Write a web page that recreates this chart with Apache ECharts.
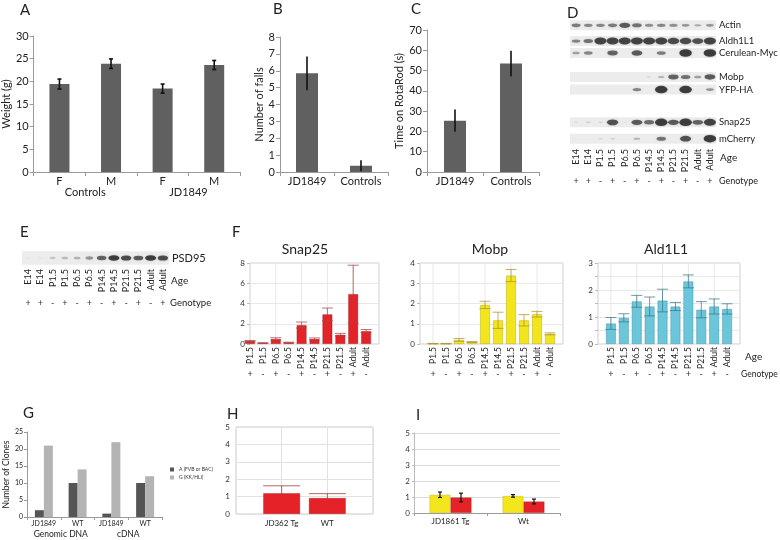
<!DOCTYPE html>
<html><head><meta charset="utf-8">
<script src="https://cdn.jsdelivr.net/npm/echarts@6/dist/echarts.min.js"></script>
<style>html,body{margin:0;padding:0;background:#fff}#c{width:780px;height:540px}</style>
</head><body><div id="c"></div><script>
// ---------------- data ----------------
const aCategories = ['F', 'M', 'F', 'M'];
const aGroups = ['Controls', 'JD1849'];
const aWeight = [19.4, 23.9, 18.4, 23.6];
const aWeightErr = [1.1, 1.05, 1.0, 1.0];

const bCategories = ['JD1849', 'Controls'];
const bFalls = [5.85, 0.37];
const bFallsErr = [1.0, 0.32];

const cCategories = ['JD1849', 'Controls'];
const cTime = [25.3, 53.5];
const cTimeErr = [5.5, 6.3];

const blotAges = ['E14', 'E14', 'P1.5', 'P1.5', 'P6.5', 'P6.5', 'P14.5', 'P14.5', 'P21.5', 'P21.5', 'Adult', 'Adult'];
const blotGenotype = ['+', '+', '-', '+', '-', '+', '-', '+', '-', '+', '-', '+'];

const dRowNames = ['Actin', 'Aldh1L1', 'Cerulean-Myc', 'Mobp', 'YFP-HA', 'Snap25', 'mCherry'];
const dActin = [0.6, 0.55, 0.55, 0.6, 0.8, 0.65, 0.5, 0.55, 0.5, 0.45, 0.35, 0.45];
const dAldh1L1 = [0.55, 0.65, 0.95, 0.95, 0.95, 0.95, 0.95, 0.95, 0.9, 0.9, 0.85, 0.95];
const dCerulean = [0.4, 0.55, 0, 0.75, 0, 0.8, 0, 0.6, 0, 1, 0, 1];
const dMobp = [0, 0, 0, 0, 0, 0, 0.1, 0.3, 0.75, 0.65, 0.4, 0.8];
const dYfp = [0, 0, 0, 0, 0, 0.55, 0, 1, 0, 1, 0, 0.45];
const dSnap25 = [0.08, 0.15, 0.12, 0.85, 0.04, 0.8, 0.7, 1, 0.8, 1, 0.75, 0.95];
const dMcherry = [0, 0, 0.1, 0.15, 0, 0.3, 0, 0.65, 0, 0.85, 0, 1];

const eRowNames = ['PSD95'];
const ePsd95 = [0.04, 0.04, 0.2, 0.25, 0.3, 0.45, 0.75, 1, 0.9, 0.8, 1, 0.9];

const fAges = ['P1.5', 'P1.5', 'P6.5', 'P6.5', 'P14.5', 'P14.5', 'P21.5', 'P21.5', 'Adult', 'Adult'];
const fGenotype = ['+', '-', '+', '-', '+', '-', '+', '-', '+', '-'];
const fTitles = ['Snap25', 'Mobp', 'Ald1L1'];
const fSnap25 = [0.3, 0.1, 0.5, 0.15, 1.87, 0.5, 2.93, 0.92, 4.93, 1.28];
const fSnap25Err = [0.05, 0.03, 0.12, 0.03, 0.3, 0.1, 0.62, 0.13, 2.85, 0.15];
const fMobp = [0.02, 0.02, 0.2, 0.1, 1.93, 1.17, 3.38, 1.17, 1.47, 0.5];
const fMobpErr = [0.01, 0.01, 0.07, 0.02, 0.18, 0.4, 0.3, 0.28, 0.14, 0.05];
const fAld1L1 = [0.76, 0.97, 1.58, 1.39, 1.61, 1.39, 2.32, 1.27, 1.39, 1.30];
const fAld1L1Err = [0.22, 0.15, 0.22, 0.35, 0.42, 0.15, 0.24, 0.3, 0.28, 0.19];

const gCategories = ['JD1849', 'WT', 'JD1849', 'WT'];
const gGroups = ['Genomic DNA', 'cDNA'];
const gSeriesNames = ['A (FVB or BAC)', 'G (KK/HLI)'];
const gAlleleA = [2, 10, 1, 10];
const gAlleleG = [21, 14, 22, 12];

const hCategories = ['JD362 Tg', 'WT'];
const hValues = [1.2, 0.92];
const hErr = [0.42, 0.25];

const iCategories = ['JD1861 Tg', 'Wt'];
const iYellow = [1.14, 1.07];
const iYellowErr = [0.17, 0.08];
const iRed = [0.97, 0.72];
const iRedErr = [0.27, 0.15];

// ---------------- builders ----------------
const FONT = 'Lato, "Open Sans", sans-serif';
const TXT = '#222';
const grids = [], xAxes = [], yAxes = [], series = [], graphics = [];
const addGrid = g => (grids.push(g), grids.length - 1);
const addX = a => (xAxes.push(a), xAxes.length - 1);
const addY = a => (yAxes.push(a), yAxes.length - 1);
const text = (x, y, s, size, align) => graphics.push({
  type: 'text', x, y,
  style: { text: s, fontSize: size, fill: TXT, fontFamily: FONT, align: align || 'left', verticalAlign: 'middle' }
});

function errSeries(xi, yi, data, o) {
  return {
    type: 'custom', xAxisIndex: xi, yAxisIndex: yi, data, z: 6, silent: true, clip: false,
    encode: { x: 0, y: 1 },
    renderItem(params, api) {
      const x = api.value(0), v = api.value(1), e = api.value(2);
      const t = api.coord([x, v + e]), b = api.coord([x, v - e]);
      const dx = o.dx || 0, hw = (o.cap || 0) / 2;
      const st = { stroke: o.color, lineWidth: o.width };
      const ch = [{ type: 'line', shape: { x1: t[0] + dx, y1: t[1], x2: b[0] + dx, y2: b[1] }, style: st }];
      if (hw > 0) {
        ch.push({ type: 'line', shape: { x1: t[0] + dx - hw, y1: t[1], x2: t[0] + dx + hw, y2: t[1] }, style: st });
        if (!o.noBottomCap) ch.push({ type: 'line', shape: { x1: b[0] + dx - hw, y1: b[1], x2: b[0] + dx + hw, y2: b[1] }, style: st });
      }
      return { type: 'group', children: ch };
    }
  };
}

const axisGray = { lineStyle: { color: '#9a9a9a', width: 1 } };

function simpleBar(rect, cats, vals, errs, yMax, yInt, yName, nameGap, barW, cap) {
  const gi = addGrid(rect);
  const xi = addX({
    type: 'category', gridIndex: gi, data: cats, axisLine: axisGray,
    axisTick: { show: true, length: 4, lineStyle: { color: '#9a9a9a' } },
    axisLabel: { fontSize: 11, color: TXT, margin: 4, fontFamily: FONT, interval: 0 }
  });
  const yi = addY({
    type: 'value', gridIndex: gi, min: 0, max: yMax, interval: yInt,
    axisLine: { show: true, lineStyle: { color: '#9a9a9a' } },
    axisTick: { show: true, length: 4, lineStyle: { color: '#9a9a9a' } },
    splitLine: { show: false },
    axisLabel: { fontSize: 11, color: TXT, margin: 5, fontFamily: FONT },
    name: yName, nameLocation: 'middle', nameRotate: 90, nameGap,
    nameTextStyle: { fontSize: 11, color: TXT, fontFamily: FONT }
  });
  series.push({ type: 'bar', xAxisIndex: xi, yAxisIndex: yi, data: vals, barWidth: barW, itemStyle: { color: '#606060' }, z: 3 });
  series.push(errSeries(xi, yi, vals.map((v, i) => [i, v, errs[i]]), { color: '#111', width: 1.6, cap }));
  return gi;
}

function blot(rect, rowNames, rowSlots, slotMax, rows, sizeFn, genoOffset, stripHalf, labelSize) {
  const gi = addGrid(rect);
  const xi = addX({
    type: 'category', gridIndex: gi, data: blotAges, axisLine: { show: false }, axisTick: { show: false },
    axisLabel: { rotate: 90, fontSize: 9, color: TXT, margin: 4, fontFamily: FONT, interval: 0 }
  });
  addX({
    type: 'category', gridIndex: gi, data: blotGenotype, position: 'bottom', offset: genoOffset,
    axisLine: { show: false }, axisTick: { show: false },
    axisLabel: { fontSize: 9, color: '#333', margin: 4, fontFamily: FONT, interval: 0 }
  });
  const yi = addY({ type: 'value', gridIndex: gi, min: -0.5, max: slotMax + 0.5, inverse: true, show: false });
  series.push({
    type: 'scatter', xAxisIndex: xi, yAxisIndex: yi, data: [], z: 1, silent: true,
    markArea: {
      silent: true,
      itemStyle: { color: '#ececec' },
      label: { show: true, position: 'right', distance: 3, fontSize: labelSize, color: TXT, fontFamily: FONT },
      data: rowNames.map((n, r) => [{ name: n, yAxis: rowSlots[r] - stripHalf }, { yAxis: rowSlots[r] + stripHalf }])
    }
  });
  const pts = [];
  rows.forEach((arr, r) => arr.forEach((v, l) => { if (v > 0.02) pts.push([l, rowSlots[r], v]); }));
  series.push({
    type: 'scatter', xAxisIndex: xi, yAxisIndex: yi, data: pts, z: 3, silent: true,
    symbol: 'circle', symbolSize: val => sizeFn(val[2]),
    itemStyle: {
      color: p => 'rgba(20,20,20,' + Math.min(1, p.value[2] * 0.95).toFixed(2) + ')',
      shadowBlur: 2, shadowColor: 'rgba(0,0,0,0.3)'
    }
  });
  return gi;
}

function fChart(rect, vals, errs, xMin, yMax, yInt, labelEvery, color, border, errColor) {
  const gi = addGrid(Object.assign({ show: true, borderColor: '#cfcfcf', borderWidth: 1 }, rect));
  const xi = addX({
    type: 'value', gridIndex: gi, min: xMin, max: 11, interval: 1,
    axisLine: { show: false }, axisTick: { show: false }, splitLine: { show: false },
    axisLabel: { rotate: 90, fontSize: 8.5, color: TXT, margin: 3, fontFamily: FONT, formatter: v => fAges[v - 1] || '' }
  });
  addX({
    type: 'value', gridIndex: gi, min: xMin, max: 11, interval: 1, position: 'bottom', offset: 22,
    axisLine: { show: false }, axisTick: { show: false }, splitLine: { show: false },
    axisLabel: { fontSize: 9, color: '#333', margin: 4, fontFamily: FONT, formatter: v => fGenotype[v - 1] || '' }
  });
  const yi = addY({
    type: 'value', gridIndex: gi, min: 0, max: yMax, interval: yInt,
    axisLine: { show: false }, axisTick: { show: true, length: 3, lineStyle: { color: '#bbb' } },
    splitLine: { lineStyle: { color: '#e8e8e8' } },
    axisLabel: { fontSize: 8, color: '#333', margin: 5, fontFamily: FONT, formatter: v => (Math.abs(v % labelEvery) < 1e-9 ? String(v) : '') }
  });
  const odd = [];
  for (let k = 1; k <= 9; k += 2) if (k > xMin) odd.push([k]);
  series.push({
    type: 'custom', xAxisIndex: xi, yAxisIndex: yi, data: odd, z: 1, silent: true, encode: { x: 0 },
    renderItem(p, api) {
      const a = api.coord([api.value(0), 0]), b = api.coord([api.value(0), yMax]);
      return { type: 'line', shape: { x1: a[0], y1: a[1], x2: b[0], y2: b[1] }, style: { stroke: '#e8e8e8', lineWidth: 1 } };
    }
  });
  series.push({
    type: 'bar', xAxisIndex: xi, yAxisIndex: yi, data: vals.map((v, i) => [i + 1, v]), barWidth: 10, z: 3,
    itemStyle: { color, borderColor: border, borderWidth: 0.7 }
  });
  series.push(errSeries(xi, yi, vals.map((v, i) => [i + 1, v, errs[i]]), { color: errColor, width: 1, cap: 11 }));
  return gi;
}

// ---------------- panels ----------------
const gA = simpleBar({ left: 32, top: 36, width: 208, height: 136 }, aCategories, aWeight, aWeightErr, 30, 5, 'Weight (g)', 20, 20, 4);
addX({
  type: 'category', gridIndex: gA, data: aGroups, position: 'bottom', offset: 11,
  axisLine: { show: false }, axisTick: { show: false },
  axisLabel: { fontSize: 11, color: TXT, margin: 4, fontFamily: FONT, interval: 0 }
});
simpleBar({ left: 280, top: 37, width: 108, height: 135 }, bCategories, bFalls, bFallsErr, 8, 1, 'Number of falls', 13, 22, 0);
simpleBar({ left: 427, top: 30, width: 112, height: 142 }, cCategories, cTime, cTimeErr, 70, 10, 'Time on RotaRod (s)', 18, 22, 0);

blot({ left: 570, top: 19, width: 146, height: 126 }, dRowNames, [0, 1.25, 2.2, 4.1, 5.1, 7.7, 9], 9,
  [dActin, dAldh1L1, dCerulean, dMobp, dYfp, dSnap25, dMcherry],
  v => [4 + 8.5 * v, 1.5 + 6 * v * v], 28, 0.4, 9.5);
blot({ left: 22, top: 251, width: 147, height: 14 }, eRowNames, [0], 0, [ePsd95],
  v => [5 + 6 * v, 1.5 + 4 * v], 30, 0.48, 11);

fChart({ left: 250, top: 263, width: 129, height: 81 }, fSnap25, fSnap25Err, 1, 8, 2, 2,
  '#e52228', 'rgba(150,20,20,0.55)', 'rgba(170,70,70,0.75)');
fChart({ left: 420, top: 263, width: 143, height: 81 }, fMobp, fMobpErr, 0, 4, 1, 1,
  '#f3e51c', 'rgba(170,160,0,0.6)', 'rgba(175,150,40,0.75)');
fChart({ left: 598, top: 263, width: 142, height: 81 }, fAld1L1, fAld1L1Err, 0, 3, 0.5, 1,
  '#6cc6da', 'rgba(50,140,160,0.6)', 'rgba(60,120,140,0.75)');

const gG = addGrid({ left: 27, top: 432, width: 135, height: 85 });
const gGx = addX({
  type: 'category', gridIndex: gG, data: gCategories, axisLine: axisGray,
  axisTick: { show: true, length: 3, lineStyle: { color: '#9a9a9a' } },
  axisLabel: { fontSize: 7, color: TXT, margin: 3, fontFamily: FONT, interval: 0 }
});
addX({
  type: 'category', gridIndex: gG, data: gGroups, position: 'bottom', offset: 9,
  axisLine: { show: false }, axisTick: { show: false },
  axisLabel: { fontSize: 8.5, color: TXT, margin: 4, fontFamily: FONT, interval: 0 }
});
const gGy = addY({
  type: 'value', gridIndex: gG, min: 0, max: 25, interval: 5,
  axisLine: { show: true, lineStyle: { color: '#9a9a9a' } },
  axisTick: { show: true, length: 3, lineStyle: { color: '#9a9a9a' } }, splitLine: { show: false },
  axisLabel: { fontSize: 7, color: TXT, margin: 4, fontFamily: FONT },
  name: 'Number of Clones', nameLocation: 'middle', nameRotate: 90, nameGap: 13,
  nameTextStyle: { fontSize: 8.5, color: TXT, fontFamily: FONT }
});
series.push({ type: 'bar', name: gSeriesNames[0], xAxisIndex: gGx, yAxisIndex: gGy, data: gAlleleA, barWidth: 9, barGap: '0%', itemStyle: { color: '#555555' } });
series.push({ type: 'bar', name: gSeriesNames[1], xAxisIndex: gGx, yAxisIndex: gGy, data: gAlleleG, barWidth: 9, barGap: '0%', itemStyle: { color: '#b4b4b4' } });

const gH = addGrid({ left: 236, top: 427, width: 137, height: 87, show: true, borderColor: '#cccccc', borderWidth: 1 });
const hX = addX({
  type: 'value', gridIndex: gH, min: 0, max: 3, interval: 1,
  axisLine: { show: false }, axisTick: { show: false },
  splitLine: { show: true, lineStyle: { color: '#e2e2e2' } },
  axisLabel: { fontSize: 8, color: TXT, margin: 5, fontFamily: FONT, formatter: v => hCategories[v - 1] || '' }
});
const hY = addY({
  type: 'value', gridIndex: gH, min: 0, max: 5, interval: 1,
  axisLine: { show: false }, axisTick: { show: false },
  splitLine: { lineStyle: { color: '#e2e2e2' } },
  axisLabel: { fontSize: 8, color: '#333', margin: 6, fontFamily: FONT }
});
series.push({ type: 'bar', xAxisIndex: hX, yAxisIndex: hY, data: hValues.map((v, i) => [i + 1, v]), barWidth: 37, z: 3, itemStyle: { color: '#e52228', borderColor: 'rgba(150,20,20,0.5)', borderWidth: 0.7 } });
series.push(errSeries(hX, hY, hValues.map((v, i) => [i + 1, v, hErr[i]]), { color: 'rgba(170,60,60,0.8)', width: 1, cap: 37, noBottomCap: true }));

const gI = addGrid({ left: 414, top: 433, width: 146, height: 80 });
const iX = addX({
  type: 'category', gridIndex: gI, data: iCategories,
  axisLine: { show: true, lineStyle: { color: '#9a9a9a' } },
  axisTick: { show: true, length: 3, lineStyle: { color: '#9a9a9a' } },
  axisLabel: { fontSize: 8, color: TXT, margin: 4, fontFamily: FONT, interval: 0 }
});
const iY = addY({
  type: 'value', gridIndex: gI, min: 0, max: 5, interval: 1,
  axisLine: { show: true, lineStyle: { color: '#bdbdbd' } }, axisTick: { show: true, length: 2, lineStyle: { color: '#bdbdbd' } },
  splitLine: { lineStyle: { color: '#dcdcdc' } },
  axisLabel: { fontSize: 8, color: '#333', margin: 4, fontFamily: FONT }
});
series.push({ type: 'bar', xAxisIndex: iX, yAxisIndex: iY, data: iYellow, barWidth: 21, barGap: '0%', z: 3, itemStyle: { color: '#f3e61c', borderColor: 'rgba(170,160,0,0.5)', borderWidth: 0.6 } });
series.push({ type: 'bar', xAxisIndex: iX, yAxisIndex: iY, data: iRed, barWidth: 21, barGap: '0%', z: 3, itemStyle: { color: '#e52228', borderColor: 'rgba(150,20,20,0.5)', borderWidth: 0.6 } });
series.push(errSeries(iX, iY, iYellow.map((v, i) => [i, v, iYellowErr[i]]), { color: '#111', width: 1.2, cap: 4, dx: -10.5 }));
series.push(errSeries(iX, iY, iRed.map((v, i) => [i, v, iRedErr[i]]), { color: '#111', width: 1.2, cap: 4, dx: 10.5 }));

// ---------------- texts ----------------
[['A', 25, 10], ['B', 278, 9], ['C', 416, 9], ['D', 572, 13], ['E', 25, 232], ['F', 237, 232],
 ['G', 28, 413], ['H', 232, 414], ['I', 421, 415]].forEach(([s, x, y]) => text(x - 5, y, s, 15));
text(305, 249, fTitles[0], 14, 'center');
text(490, 249, fTitles[1], 14, 'center');
text(666, 249, fTitles[2], 14, 'center');
text(720, 158, 'Age', 10);
text(719, 181, 'Genotype', 9);
text(171, 281, 'Age', 10);
text(170, 303, 'Genotype', 9.5);
text(745, 357, 'Age', 10);
text(741, 374, 'Genotype', 8.5);

const chart = echarts.init(document.getElementById('c'), null, { renderer: 'canvas' });
chart.setOption({
  animation: false,
  backgroundColor: '#fff',
  textStyle: { fontFamily: FONT },
  grid: grids.map(g => Object.assign({ containLabel: false }, g)),
  xAxis: xAxes,
  yAxis: yAxes,
  legend: {
    data: gSeriesNames, orient: 'vertical', left: 170, top: 467, itemWidth: 4, itemHeight: 4, itemGap: 3,
    icon: 'rect', textStyle: { fontSize: 5, color: '#333', fontFamily: FONT }, padding: 0
  },
  graphic: graphics,
  series
});
</script></body></html>
